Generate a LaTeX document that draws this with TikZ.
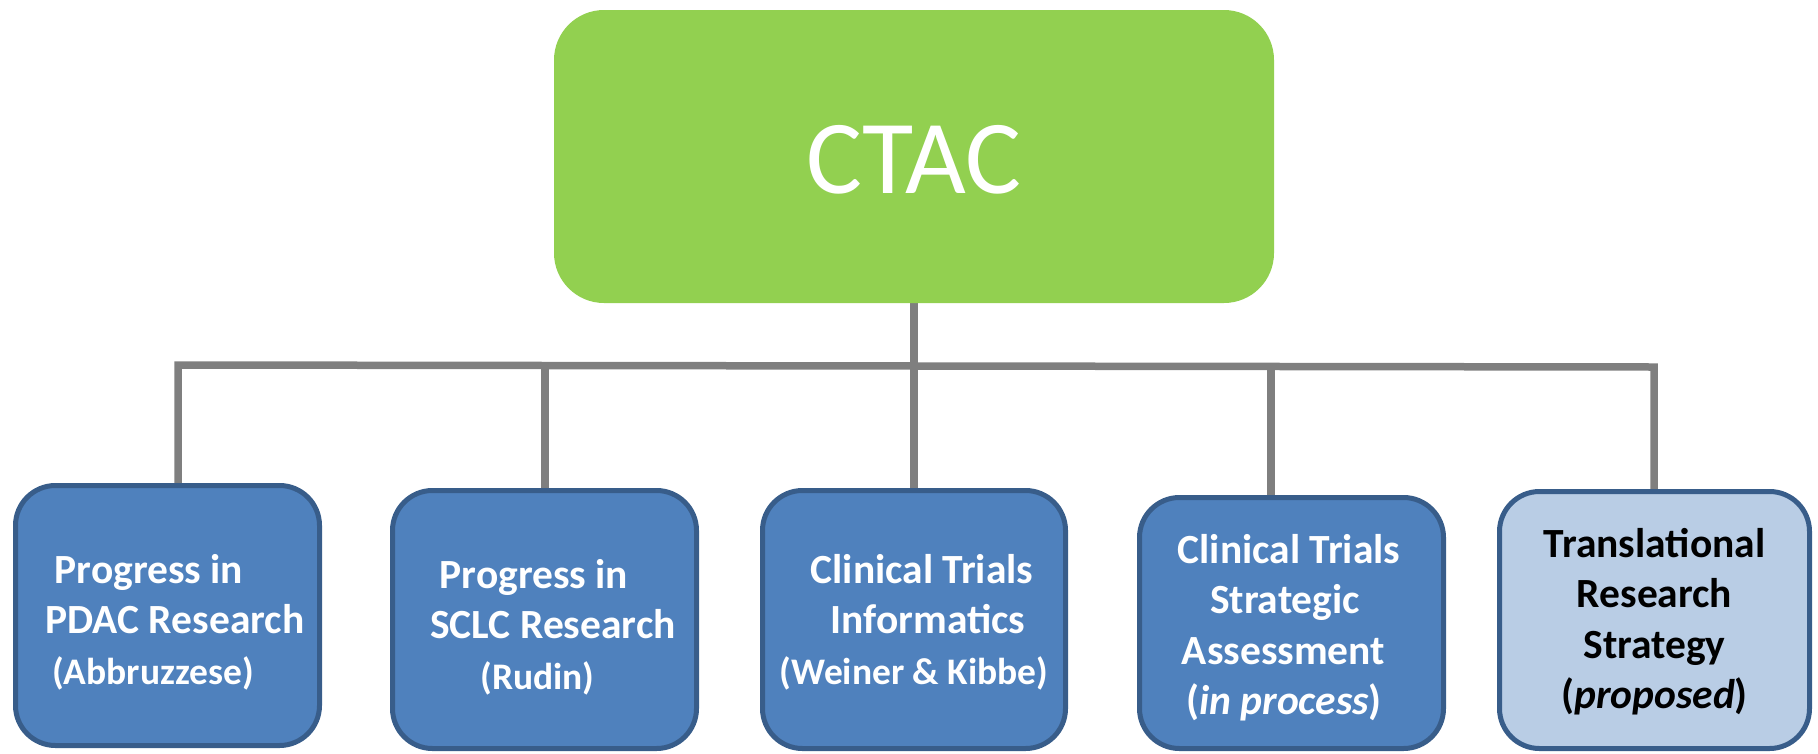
\documentclass[tikz,border=0pt]{standalone}
\usepackage{fontspec}
\setmainfont{Carlito}
\usetikzlibrary{backgrounds}
\definecolor{ctacgreen}{HTML}{92D050}
\definecolor{boxblue}{HTML}{4F81BD}
\definecolor{boxedge}{HTML}{385D8A}
\definecolor{boxlight}{HTML}{B9CDE5}
\definecolor{linegray}{HTML}{7F7F7F}
\newcommand{\boxtext}[2]{\raisebox{#1}[0pt][0pt]{\begin{tabular}[t]{@{}c@{}}#2\end{tabular}}}
\newcommand{\smallline}{\fontsize{37.5}{50.5}\selectfont}
\begin{document}
\begin{tikzpicture}[x=1pt,y=-1pt,
  conn/.style={draw=linegray, line width=7.5pt},
  topbox/.style={fill=ctacgreen, rounded corners=50pt, inner sep=0pt, text=white,
    font=\fontsize{105}{126}\selectfont},
  lowbox/.style={fill=boxblue, draw=boxedge, line width=5pt, rounded corners=40pt,
    inner sep=0pt, text=white, font=\fontsize{41.5}{50.5}\selectfont\bfseries},
  lightbox/.style={lowbox, fill=boxlight, text=black}]
\useasboundingbox (0,0) rectangle (1818,753);

\node[topbox, minimum width=720pt, minimum height=293pt] (ctac) at (914,156.5)
  {\raisebox{-36.5pt}[0pt][0pt]{CTAC}};

\node[lowbox, minimum width=304pt, minimum height=260pt] (b1) at (167.5,615.5)
  {\boxtext{32.5pt}{\hspace*{-37pt}Progress in\\ \hspace*{15pt}PDAC Research\\ \smallline\hspace*{-29pt}(Abbruzzese)}};
\node[lowbox, minimum width=304pt, minimum height=258pt] (b2) at (544.5,619.5)
  {\boxtext{31.5pt}{\hspace*{-21pt}Progress in\\ \hspace*{17pt}SCLC Research\\ \smallline\hspace*{-14pt}(Rudin)}};
\node[lowbox, minimum width=303pt, minimum height=258pt] (b3) at (914,619.5)
  {\boxtext{36.5pt}{\hspace*{16pt}Clinical Trials\\ \hspace*{28pt}Informatics\\ \smallline(Weiner \& Kibbe)}};
\node[lowbox, minimum width=304pt, minimum height=251pt] (b4) at (1291.5,623)
  {\boxtext{60pt}{\hspace*{-5pt}Clinical Trials\\ \hspace*{-13pt}Strategic\\ \hspace*{-16pt}Assessment\\ \hspace*{-15pt}(\textit{in process})}};
\node[lightbox, minimum width=310pt, minimum height=257pt] (b5) at (1654.5,620)
  {\boxtext{63pt}{Translational\\ Research\\ Strategy\\ (\textit{proposed})}};

\coordinate (d1) at (178,365);
\coordinate (d2) at (545,365.5);
\coordinate (d4) at (1271,366.5);
\coordinate (d5) at (1654,367);

\begin{pgfonlayer}{background}
\draw[conn] (ctac.south) -- (b3.north);
\draw[conn] (b1.north -| d1) -- (d1) -- (d5) -- (b5.north -| d5);
\draw[conn] (d2) -- (b2.north -| d2);
\draw[conn] (d4) -- (b4.north -| d4);
\end{pgfonlayer}
\end{tikzpicture}
\end{document}
